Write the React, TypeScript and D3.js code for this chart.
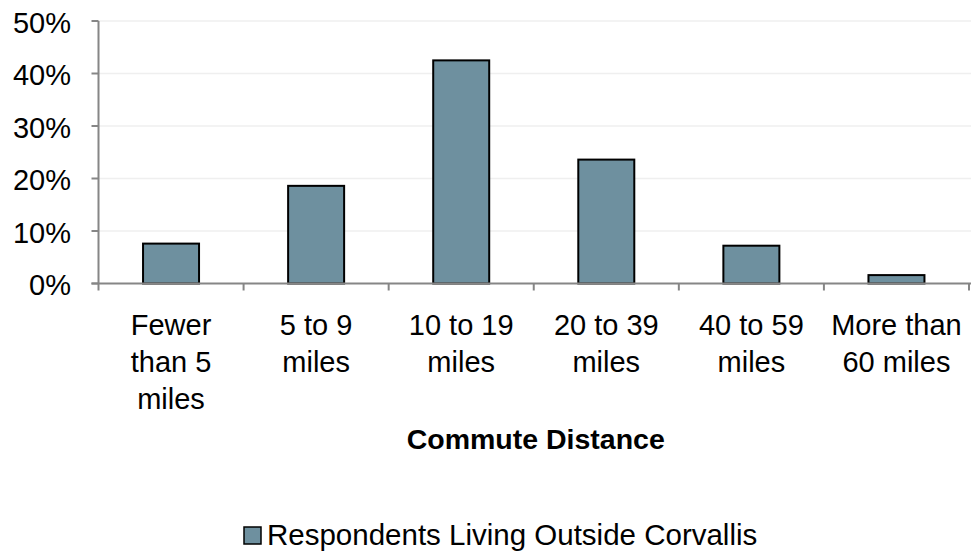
import React from "react";
import * as d3 from "d3";

const categories: string[][] = [
  ["Fewer", "than 5", "miles"],
  ["5 to 9", "miles"],
  ["10 to 19", "miles"],
  ["20 to 39", "miles"],
  ["40 to 59", "miles"],
  ["More than", "60 miles"],
];
const values: number[] = [0.076, 0.186, 0.425, 0.236, 0.072, 0.016];
const yTicks: number[] = [0, 0.1, 0.2, 0.3, 0.4, 0.5];
const seriesName = "Respondents Living Outside Corvallis";
const axisTitle = "Commute Distance";

const W = 971;
const H = 555;
const FONT = "'Liberation Sans', Arial, sans-serif";
const BAR = "#6e909f";
const AXIS = "#868686";
const GRID = "#efefef";

export default function App() {
  const left = 98.5;
  const right = 969;
  const y = d3.scaleLinear().domain([0, 0.5]).range([283.5, 21]);
  const x = d3
    .scaleBand<number>()
    .domain(categories.map((_, i) => i))
    .range([left, right])
    .paddingInner(0.614)
    .paddingOuter(0.307);
  const step = x.step();
  const fmt = d3.format(".0%");

  return (
    <svg
      width={W}
      height={H}
      style={{ position: "absolute", left: 0, top: 0, background: "#fff" }}
      fontFamily={FONT}
    >
      {yTicks.slice(1).map((t) => (
        <line key={"g" + t} x1={left} x2={right + 2} y1={y(t)} y2={y(t)} stroke={GRID} strokeWidth={1.5} />
      ))}
      {values.map((v, i) => (
        <rect
          key={"b" + i}
          x={x(i)!}
          y={y(v)}
          width={x.bandwidth()}
          height={y(0) - y(v)}
          fill={BAR}
          stroke="#000"
          strokeWidth={2}
        />
      ))}
      <line x1={left} x2={left} y1={y(0.5)} y2={y(0)} stroke={AXIS} strokeWidth={2} />
      <line x1={left - 7} x2={right + 2} y1={y(0)} y2={y(0)} stroke={AXIS} strokeWidth={2} />
      {yTicks.map((t) => (
        <g key={"yt" + t}>
          <line x1={left - 7} x2={left} y1={y(t)} y2={y(t)} stroke={AXIS} strokeWidth={2} />
          <text x={71} y={y(t) + 11.5} textAnchor="end" fontSize={29} fill="#000">
            {fmt(t)}
          </text>
        </g>
      ))}
      {categories.map((_, i) => (
        <line
          key={"xt" + i}
          x1={left + i * step}
          x2={left + i * step}
          y1={y(0)}
          y2={y(0) + 7}
          stroke={AXIS}
          strokeWidth={2}
        />
      ))}
      <line x1={left + 6 * step} x2={left + 6 * step} y1={y(0)} y2={y(0) + 7} stroke={AXIS} strokeWidth={2} />
      {categories.map((lines, i) => (
        <text key={"xl" + i} textAnchor="middle" fontSize={29} fill="#000">
          {lines.map((l, j) => (
            <tspan key={j} x={x(i)! + x.bandwidth() / 2} y={335 + j * 37}>
              {l}
            </tspan>
          ))}
        </text>
      ))}
      <text x={(left + right) / 2 + 2} y={449} textAnchor="middle" fontSize={28.5} fontWeight="bold" fill="#000">
        {axisTitle}
      </text>
      <rect x={244} y={527} width={17} height={17} fill={BAR} stroke="#000" strokeWidth={1.5} />
      <text x={267} y={545} fontSize={29.5} fill="#000">
        {seriesName}
      </text>
    </svg>
  );
}
